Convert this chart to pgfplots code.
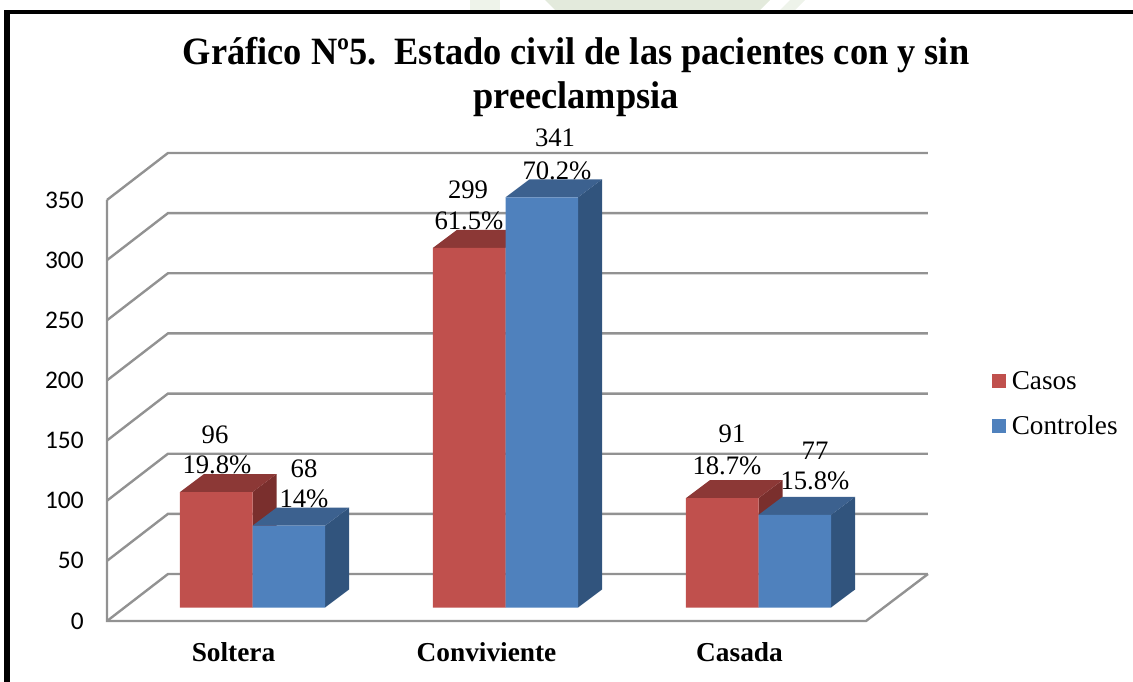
\documentclass[border=0pt]{standalone}
\usepackage{fontspec}
\usepackage{pgfplots}
\pgfplotsset{compat=1.18}
\setmainfont{Liberation Serif}
\newfontfamily\carlito{Carlito}
\definecolor{casos}{HTML}{C0504D}
\definecolor{casosside}{HTML}{7A2F2D}
\definecolor{casostop}{HTML}{8C3836}
\definecolor{ctrl}{HTML}{4F81BD}
\definecolor{ctrlside}{HTML}{31547D}
\definecolor{ctrltop}{HTML}{3C618F}
\definecolor{gridgray}{HTML}{929292}
\definecolor{wm}{HTML}{E3EADC}
\newcommand{\lab}{\fontsize{20}{24}\selectfont}
\pgfplotsset{wall/.style={forget plot,gridgray,line width=1.8pt},
  face/.style={forget plot,fill=#1,draw=none,xshift=14.25pt,yshift=10.1pt}}
\begin{document}
\begin{tikzpicture}
\begin{scope}[x=0.75pt,y=-0.75pt]
\path[use as bounding box] (0,0) rectangle (1133,682);
\fill[wm] (545,0) -- (770,0) -- (760,10) -- (555,10) -- cycle;
\fill[wm!60] (470,0) rectangle (500,10);
\fill[wm!60] (790,0) -- (805,0) -- (795,10) -- (780,10) -- cycle;
\fill[black] (4,10) rectangle (1133,14);
\fill[black] (4,10) rectangle (10,682);
\node[xscale=0.94,transform shape,font=\fontsize{29}{33}\selectfont\bfseries,align=center] at (576,77)
  {Gráfico Nº5.\ \ Estado civil de las pacientes con y sin\\preeclampsia};
\end{scope}
\begin{axis}[
  at={(80.25pt,-465.75pt)},anchor=south west,
  x=189.75pt,y=0.90225pt,
  xmin=-0.5,xmax=2.745,ymin=0,ymax=389.07,
  clip=false,
  axis line style={draw=none},
  major tick length=0pt,
  xtick={0,1,2},xticklabels={Soltera,Conviviente,Casada},
  ytick={0,50,100,150,200,250,300,350},
  x tick label style={font=\fontsize{20.5}{24}\selectfont\bfseries,yshift=-12.75pt},
  y tick label style={font=\carlito\fontsize{19}{22}\selectfont,xshift=-14pt},
  /pgf/number format/assume math mode=true,
  legend style={draw=none,fill=none,at={(1.0778,0.539)},anchor=north west,
    font=\fontsize{20.4}{24}\selectfont,row sep=14pt,inner xsep=0pt,inner ysep=0pt},
  legend cell align=left,
  legend image code/.code={\fill[#1,draw=none] (-2.25pt,-15pt) rectangle (8.25pt,-4.5pt);\path (10.5pt,-10pt);},
]
% walls and floor
\addplot[wall] coordinates {(-0.5,350) (-0.5,0) (2.5,0) (2.745,39.07)};
\addplot[wall] coordinates {(-0.5,0) (-0.2589,39.07) (2.745,39.07)};
\addplot[wall] coordinates {(-0.5,50) (-0.2589,89.07) (2.745,89.07)};
\addplot[wall] coordinates {(-0.5,100) (-0.2589,139.07) (2.745,139.07)};
\addplot[wall] coordinates {(-0.5,150) (-0.2589,189.07) (2.745,189.07)};
\addplot[wall] coordinates {(-0.5,200) (-0.2589,239.07) (2.745,239.07)};
\addplot[wall] coordinates {(-0.5,250) (-0.2589,289.07) (2.745,289.07)};
\addplot[wall] coordinates {(-0.5,300) (-0.2589,339.07) (2.745,339.07)};
\addplot[wall] coordinates {(-0.5,350) (-0.2589,389.07) (2.745,389.07)};
% casos, sides and tops
\addplot[face=casosside] coordinates {(0,0) (0.0949,14.96) (0.0949,110.96) (0,96)};
\addplot[face=casosside] coordinates {(1,0) (1.0949,14.96) (1.0949,313.96) (1,299)};
\addplot[face=casosside] coordinates {(2,0) (2.0949,14.96) (2.0949,105.96) (2,91)};
\addplot[face=casostop] coordinates {(-0.2866,96) (-0.1917,110.96) (0.0949,110.96) (0,96)};
\addplot[face=casostop] coordinates {(0.7134,299) (0.8083,313.96) (1.0949,313.96) (1,299)};
\addplot[face=casostop] coordinates {(1.7134,91) (1.8083,105.96) (2.0949,105.96) (2,91)};
\addplot[ybar,bar width=54.4pt,bar shift=-27.2pt,fill=casos,draw=none,xshift=14.25pt,yshift=10.1pt] coordinates {(0,96) (1,299) (2,91)};
\addlegendentry{Casos}
% controles, sides and tops
\addplot[face=ctrlside] coordinates {(0.2866,0) (0.3815,14.96) (0.3815,82.96) (0.2866,68)};
\addplot[face=ctrlside] coordinates {(1.2866,0) (1.3815,14.96) (1.3815,355.96) (1.2866,341)};
\addplot[face=ctrlside] coordinates {(2.2866,0) (2.3815,14.96) (2.3815,91.96) (2.2866,77)};
\addplot[face=ctrltop] coordinates {(0,68) (0.0949,82.96) (0.3815,82.96) (0.2866,68)};
\addplot[face=ctrltop] coordinates {(1,341) (1.0949,355.96) (1.3815,355.96) (1.2866,341)};
\addplot[face=ctrltop] coordinates {(2,77) (2.0949,91.96) (2.3815,91.96) (2.2866,77)};
\addplot[ybar,bar width=54.4pt,bar shift=27.2pt,fill=ctrl,draw=none,xshift=14.25pt,yshift=10.1pt] coordinates {(0,68) (1,341) (2,77)};
\addlegendentry{Controles}
\end{axis}
\begin{scope}[x=0.75pt,y=-0.75pt,every node/.style={font=\lab,inner sep=0pt}]
\node at (215,435) {96};
\node at (217,465) {19.8\%};
\node at (304,469) {68};
\node at (304,499) {14\%};
\node at (468,190) {299};
\node at (469,221) {61.5\%};
\node at (555,138) {341};
\node at (557,171) {70.2\%};
\node at (732,434) {91};
\node at (727,466) {18.7\%};
\node at (815,451) {77};
\node at (815,481) {15.8\%};
\end{scope}
\end{tikzpicture}
\end{document}
